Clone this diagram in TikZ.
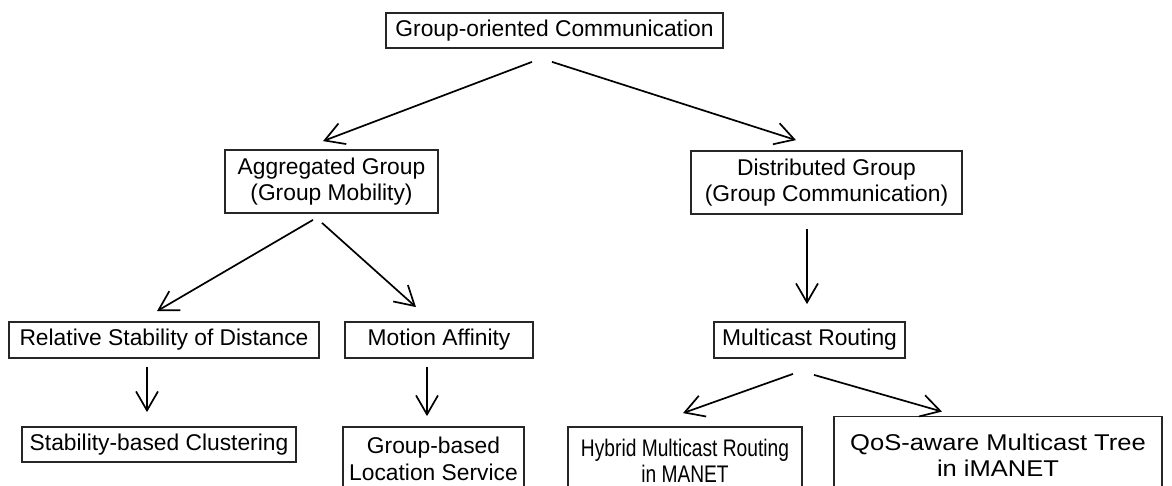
\documentclass[tikz,border=0pt]{standalone}
\usepackage{fontspec}
\setmainfont{Liberation Sans}
\newfontfamily\narrowsans[FakeStretch=0.8]{Liberation Sans}
\newfontfamily\widesans[FakeStretch=1.12]{Liberation Sans}
\usetikzlibrary{arrows.meta,calc}

\tikzset{
  box/.style={draw=black!85, line width=0.9pt, rectangle, inner sep=0pt,
              align=center, font=\fontsize{11.4}{13.2}\selectfont},
  arr/.style={draw=black, line width=0.85pt,
              -{Straight Barb[length=9.5pt,width=11pt]}},
}

\begin{document}
\begin{tikzpicture}[x=0.5pt,y=-0.5pt]
  % page frame, 1 unit = 1 pixel, y grows downwards
  \clip (0,0) rectangle (1172,486);
  \fill[white] (0,0) rectangle (1172,486);

  % boxes
  \node[box, minimum width=168.5pt, minimum height=17.5pt] (top)  at (554.5,30.5) {Group-oriented Communication};
  \node[box, minimum width=106.5pt, minimum height=31.5pt] (agg)  at (331.5,181.5) {Aggregated Group\\(Group Mobility)};
  \node[box, minimum width=135.5pt, minimum height=31.5pt] (dist) at (826.5,182.5) {Distributed Group\\(Group Communication)};
  \node[box, minimum width=155pt,   minimum height=18pt]   (rel)  at (164,340)  {Relative Stability of Distance};
  \node[box, minimum width=94pt,    minimum height=18pt]   (mot)  at (439,340)  {Motion Affinity};
  \node[box, minimum width=95.5pt,  minimum height=18pt]   (mc)   at (809.5,340) {Multicast Routing};
  \node[box, minimum width=137pt,   minimum height=17.5pt] (stab) at (159,444.5) {Stability-based Clustering};
  \node[box, minimum width=90.5pt,  minimum height=32pt]   (loc)  at (433.5,459) {Group-based\\Location Service};
  \node[box, minimum width=117pt,   minimum height=34pt,
        font=\fontsize{12}{13.2}\narrowsans]                (hyb)  at (685,461) {Hybrid Multicast Routing\\in MANET};
  \node[box, minimum width=164pt,   minimum height=38.5pt,
        font=\fontsize{11.4}{13.2}\widesans]                (qos)  at (998,455) {QoS-aware Multicast Tree\\in iMANET};

  % connectors
  \draw[arr] ($(top.south)+(-22.5,13)$) -- ($(agg.north)+(-8.5,-8)$);
  \draw[arr] ($(top.south)+(-2.5,13)$)  -- ($(dist.north)+(-30.5,-10)$);
  \draw[arr] ($(agg.south)+(-18.5,6)$)  -- ($(rel.north)+(-7,-10)$);
  \draw[arr] ($(agg.south)+(-9.5,9)$)   -- ($(mot.north)+(-23,-14)$);
  \draw[arr] ($(dist.south)+(-19.5,14)$) -- ($(mc.north)+(-2.5,-17)$);
  \draw[arr] ($(rel.south)+(-17,8)$)    -- ($(stab.north)+(-12,-14)$);
  \draw[arr] ($(mot.south)+(-12,8)$)    -- ($(loc.north)+(-6.5,-10)$);
  \draw[arr] ($(mc.south)+(-16.5,15)$)  -- ($(hyb.north)+(-2,-13)$);
  \draw[arr] ($(mc.south)+(4.5,16)$)    -- ($(qos.north)+(-56,-4)$);
\end{tikzpicture}
\end{document}
